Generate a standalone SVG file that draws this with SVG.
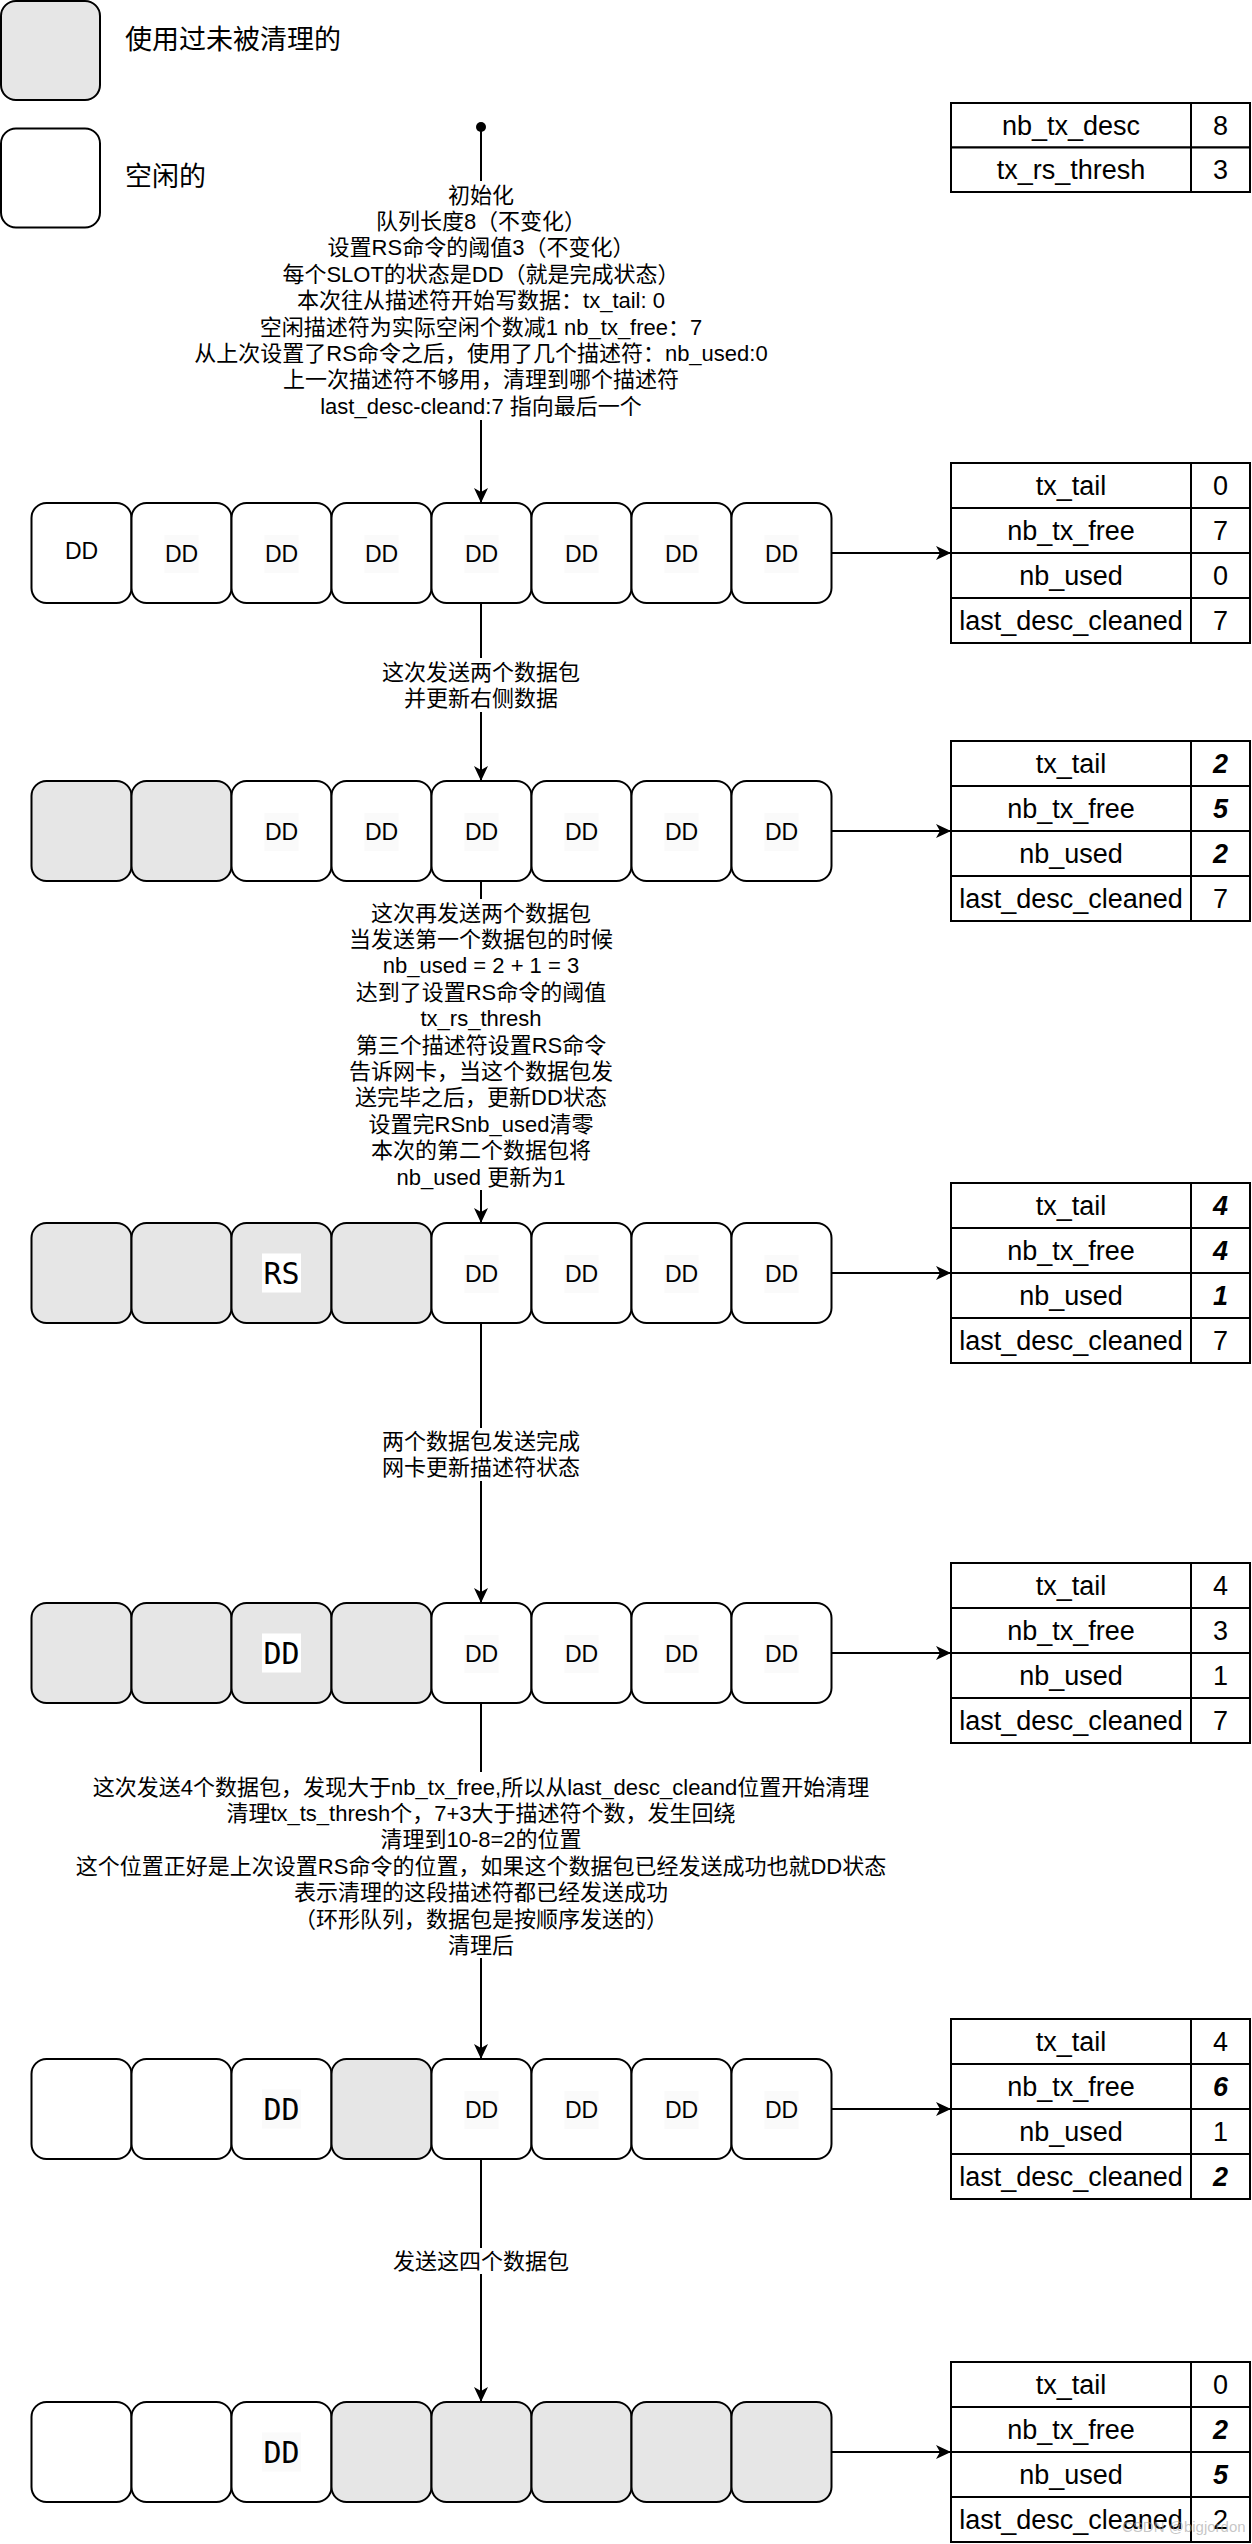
<svg xmlns="http://www.w3.org/2000/svg" width="1252" height="2544" viewBox="0 0 1252 2544">
<style>
.box{stroke:#000;stroke-width:2}
.w{fill:#fff}
.g{fill:#e6e6e6}
.tbg{fill:#fafafa}
.t{font-family:"Liberation Sans","Noto Sans CJK SC",sans-serif;font-size:22px;text-anchor:middle;dominant-baseline:central;fill:#000}
.lg{font-family:"Liberation Sans","Noto Sans CJK SC",sans-serif;font-size:27px;dominant-baseline:central;fill:#000}
.dd{font-family:"Liberation Sans",sans-serif;font-size:23px;text-anchor:middle;dominant-baseline:central;fill:#000}
.mono{font-family:"DejaVu Sans Mono",monospace;font-size:30px;text-anchor:middle;dominant-baseline:central;fill:#000}
.cell{fill:#fff;stroke:#000;stroke-width:2}
.tt{font-family:"Liberation Sans",sans-serif;font-size:27px;text-anchor:middle;dominant-baseline:central;fill:#000}
.bi{font-weight:bold;font-style:italic}
.conn{stroke:#000;stroke-width:2;fill:none}
.wm{font-family:"Liberation Sans",sans-serif;font-size:15px;fill:#a0a0a0;fill-opacity:0.6}
</style>
<defs>
<marker id="arr" markerUnits="userSpaceOnUse" markerWidth="16" markerHeight="14" refX="15" refY="7" orient="auto">
<path d="M0,0 L15,7 L0,14 L4,7 Z" fill="#000"/>
</marker>
</defs>

<g id="legend-used"><rect class="box g" x="1" y="1" width="99" height="99" rx="15"/><text class="lg" x="125" y="40">使用过未被清理的</text></g>
<g id="legend-free"><rect class="box w" x="1" y="128.5" width="99" height="99" rx="15"/><text class="lg" x="125" y="177">空闲的</text></g>

<g id="params">
<rect class="cell" x="951" y="103" width="240" height="44.5"/><rect class="cell" x="1191" y="103" width="59" height="44.5"/>
<rect class="cell" x="951" y="147.5" width="240" height="44.5"/><rect class="cell" x="1191" y="147.5" width="59" height="44.5"/>
<text class="tt" x="1071" y="125.5">nb_tx_desc</text><text class="tt" x="1220.5" y="125.5">8</text>
<text class="tt" x="1071" y="170">tx_rs_thresh</text><text class="tt" x="1220.5" y="170">3</text>
</g>

<g id="connectors">
<circle cx="481" cy="127" r="5" fill="#000"/>
<path class="conn" d="M481,127 V181 M481,420 V503" marker-end="url(#arr)"/>
<path class="conn" d="M481,603 V658 M481,712 V781" marker-end="url(#arr)"/>
<path class="conn" d="M481,881 V899 M481,1190 V1223" marker-end="url(#arr)"/>
<path class="conn" d="M481,1323 V1428 M481,1481 V1603" marker-end="url(#arr)"/>
<path class="conn" d="M481,1703 V1772 M481,1958 V2059" marker-end="url(#arr)"/>
<path class="conn" d="M481,2159 V2248 M481,2274 V2402" marker-end="url(#arr)"/>
<path class="conn" d="M831.5,553 H951" marker-end="url(#arr)"/>
<path class="conn" d="M831.5,831 H951" marker-end="url(#arr)"/>
<path class="conn" d="M831.5,1273 H951" marker-end="url(#arr)"/>
<path class="conn" d="M831.5,1653 H951" marker-end="url(#arr)"/>
<path class="conn" d="M831.5,2109 H951" marker-end="url(#arr)"/>
<path class="conn" d="M831.5,2452 H951" marker-end="url(#arr)"/>
</g>

<g id="label-init">
<text class="t" x="481" y="195">初始化</text>
<text class="t" x="481" y="221.4">队列长度8（不变化）</text>
<text class="t" x="481" y="247.8">设置RS命令的阈值3（不变化）</text>
<text class="t" x="481" y="274.2">每个SLOT的状态是DD（就是完成状态）</text>
<text class="t" x="481" y="300.6">本次往从描述符开始写数据：tx_tail: 0</text>
<text class="t" x="481" y="327">空闲描述符为实际空闲个数减1 nb_tx_free：7</text>
<text class="t" x="481" y="353.4">从上次设置了RS命令之后，使用了几个描述符：nb_used:0</text>
<text class="t" x="481" y="379.8">上一次描述符不够用，清理到哪个描述符</text>
<text class="t" x="481" y="406.2">last_desc-cleand:7 指向最后一个</text>
</g>
<g id="label-2">
<text class="t" x="481" y="672">这次发送两个数据包</text>
<text class="t" x="481" y="698.5">并更新右侧数据</text>
</g>
<g id="label-3">
<text class="t" x="481" y="913">这次再发送两个数据包</text>
<text class="t" x="481" y="939.4">当发送第一个数据包的时候</text>
<text class="t" x="481" y="965.8">nb_used = 2 + 1 = 3</text>
<text class="t" x="481" y="992.2">达到了设置RS命令的阈值</text>
<text class="t" x="481" y="1018.6">tx_rs_thresh</text>
<text class="t" x="481" y="1045">第三个描述符设置RS命令</text>
<text class="t" x="481" y="1071.4">告诉网卡，当这个数据包发</text>
<text class="t" x="481" y="1097.8">送完毕之后，更新DD状态</text>
<text class="t" x="481" y="1124.2">设置完RSnb_used清零</text>
<text class="t" x="481" y="1150.6">本次的第二个数据包将</text>
<text class="t" x="481" y="1177">nb_used 更新为1</text>
</g>
<g id="label-4">
<text class="t" x="481" y="1441.5">两个数据包发送完成</text>
<text class="t" x="481" y="1467.9">网卡更新描述符状态</text>
</g>
<g id="label-5">
<text class="t" x="481" y="1787">这次发送4个数据包，发现大于nb_tx_free,所以从last_desc_cleand位置开始清理</text>
<text class="t" x="481" y="1813.4">清理tx_ts_thresh个，7+3大于描述符个数，发生回绕</text>
<text class="t" x="481" y="1839.8">清理到10-8=2的位置</text>
<text class="t" x="481" y="1866.2">这个位置正好是上次设置RS命令的位置，如果这个数据包已经发送成功也就DD状态</text>
<text class="t" x="481" y="1892.6">表示清理的这段描述符都已经发送成功</text>
<text class="t" x="481" y="1919">（环形队列，数据包是按顺序发送的）</text>
<text class="t" x="481" y="1945.4">清理后</text>
</g>
<g id="label-6">
<text class="t" x="481" y="2261">发送这四个数据包</text>
</g>

<g id="row1">
<g id="r1s0"><rect class="box w" x="31.5" y="503" width="100" height="100" rx="15"/><text class="dd" x="81.5" y="551">DD</text></g>
<g id="r1s1"><rect class="box w" x="131.5" y="503" width="100" height="100" rx="15"/><rect class="tbg" x="164.5" y="535" width="34" height="38"/><text class="dd" x="181.5" y="554">DD</text></g>
<g id="r1s2"><rect class="box w" x="231.5" y="503" width="100" height="100" rx="15"/><rect class="tbg" x="264.5" y="535" width="34" height="38"/><text class="dd" x="281.5" y="554">DD</text></g>
<g id="r1s3"><rect class="box w" x="331.5" y="503" width="100" height="100" rx="15"/><rect class="tbg" x="364.5" y="535" width="34" height="38"/><text class="dd" x="381.5" y="554">DD</text></g>
<g id="r1s4"><rect class="box w" x="431.5" y="503" width="100" height="100" rx="15"/><rect class="tbg" x="464.5" y="535" width="34" height="38"/><text class="dd" x="481.5" y="554">DD</text></g>
<g id="r1s5"><rect class="box w" x="531.5" y="503" width="100" height="100" rx="15"/><rect class="tbg" x="564.5" y="535" width="34" height="38"/><text class="dd" x="581.5" y="554">DD</text></g>
<g id="r1s6"><rect class="box w" x="631.5" y="503" width="100" height="100" rx="15"/><rect class="tbg" x="664.5" y="535" width="34" height="38"/><text class="dd" x="681.5" y="554">DD</text></g>
<g id="r1s7"><rect class="box w" x="731.5" y="503" width="100" height="100" rx="15"/><rect class="tbg" x="764.5" y="535" width="34" height="38"/><text class="dd" x="781.5" y="554">DD</text></g>
</g>

<g id="row2">
<g id="r2s0"><rect class="box g" x="31.5" y="781" width="100" height="100" rx="15"/></g>
<g id="r2s1"><rect class="box g" x="131.5" y="781" width="100" height="100" rx="15"/></g>
<g id="r2s2"><rect class="box w" x="231.5" y="781" width="100" height="100" rx="15"/><rect class="tbg" x="264.5" y="813" width="34" height="38"/><text class="dd" x="281.5" y="832">DD</text></g>
<g id="r2s3"><rect class="box w" x="331.5" y="781" width="100" height="100" rx="15"/><rect class="tbg" x="364.5" y="813" width="34" height="38"/><text class="dd" x="381.5" y="832">DD</text></g>
<g id="r2s4"><rect class="box w" x="431.5" y="781" width="100" height="100" rx="15"/><rect class="tbg" x="464.5" y="813" width="34" height="38"/><text class="dd" x="481.5" y="832">DD</text></g>
<g id="r2s5"><rect class="box w" x="531.5" y="781" width="100" height="100" rx="15"/><rect class="tbg" x="564.5" y="813" width="34" height="38"/><text class="dd" x="581.5" y="832">DD</text></g>
<g id="r2s6"><rect class="box w" x="631.5" y="781" width="100" height="100" rx="15"/><rect class="tbg" x="664.5" y="813" width="34" height="38"/><text class="dd" x="681.5" y="832">DD</text></g>
<g id="r2s7"><rect class="box w" x="731.5" y="781" width="100" height="100" rx="15"/><rect class="tbg" x="764.5" y="813" width="34" height="38"/><text class="dd" x="781.5" y="832">DD</text></g>
</g>

<g id="row3">
<g id="r3s0"><rect class="box g" x="31.5" y="1223" width="100" height="100" rx="15"/></g>
<g id="r3s1"><rect class="box g" x="131.5" y="1223" width="100" height="100" rx="15"/></g>
<g id="r3s2"><rect class="box g" x="231.5" y="1223" width="100" height="100" rx="15"/><rect fill="#fff" x="262" y="1253.5" width="39" height="39"/><text class="mono" x="281.5" y="1273">RS</text></g>
<g id="r3s3"><rect class="box g" x="331.5" y="1223" width="100" height="100" rx="15"/></g>
<g id="r3s4"><rect class="box w" x="431.5" y="1223" width="100" height="100" rx="15"/><rect class="tbg" x="464.5" y="1255" width="34" height="38"/><text class="dd" x="481.5" y="1274">DD</text></g>
<g id="r3s5"><rect class="box w" x="531.5" y="1223" width="100" height="100" rx="15"/><rect class="tbg" x="564.5" y="1255" width="34" height="38"/><text class="dd" x="581.5" y="1274">DD</text></g>
<g id="r3s6"><rect class="box w" x="631.5" y="1223" width="100" height="100" rx="15"/><rect class="tbg" x="664.5" y="1255" width="34" height="38"/><text class="dd" x="681.5" y="1274">DD</text></g>
<g id="r3s7"><rect class="box w" x="731.5" y="1223" width="100" height="100" rx="15"/><rect class="tbg" x="764.5" y="1255" width="34" height="38"/><text class="dd" x="781.5" y="1274">DD</text></g>
</g>

<g id="row4">
<g id="r4s0"><rect class="box g" x="31.5" y="1603" width="100" height="100" rx="15"/></g>
<g id="r4s1"><rect class="box g" x="131.5" y="1603" width="100" height="100" rx="15"/></g>
<g id="r4s2"><rect class="box g" x="231.5" y="1603" width="100" height="100" rx="15"/><rect fill="#fff" x="262" y="1633.5" width="39" height="39"/><text class="mono" x="281.5" y="1653">DD</text></g>
<g id="r4s3"><rect class="box g" x="331.5" y="1603" width="100" height="100" rx="15"/></g>
<g id="r4s4"><rect class="box w" x="431.5" y="1603" width="100" height="100" rx="15"/><rect class="tbg" x="464.5" y="1635" width="34" height="38"/><text class="dd" x="481.5" y="1654">DD</text></g>
<g id="r4s5"><rect class="box w" x="531.5" y="1603" width="100" height="100" rx="15"/><rect class="tbg" x="564.5" y="1635" width="34" height="38"/><text class="dd" x="581.5" y="1654">DD</text></g>
<g id="r4s6"><rect class="box w" x="631.5" y="1603" width="100" height="100" rx="15"/><rect class="tbg" x="664.5" y="1635" width="34" height="38"/><text class="dd" x="681.5" y="1654">DD</text></g>
<g id="r4s7"><rect class="box w" x="731.5" y="1603" width="100" height="100" rx="15"/><rect class="tbg" x="764.5" y="1635" width="34" height="38"/><text class="dd" x="781.5" y="1654">DD</text></g>
</g>

<g id="row5">
<g id="r5s0"><rect class="box w" x="31.5" y="2059" width="100" height="100" rx="15"/></g>
<g id="r5s1"><rect class="box w" x="131.5" y="2059" width="100" height="100" rx="15"/></g>
<g id="r5s2"><rect class="box w" x="231.5" y="2059" width="100" height="100" rx="15"/><rect class="tbg" x="262" y="2089.5" width="39" height="39"/><text class="mono" x="281.5" y="2109">DD</text></g>
<g id="r5s3"><rect class="box g" x="331.5" y="2059" width="100" height="100" rx="15"/></g>
<g id="r5s4"><rect class="box w" x="431.5" y="2059" width="100" height="100" rx="15"/><rect class="tbg" x="464.5" y="2091" width="34" height="38"/><text class="dd" x="481.5" y="2110">DD</text></g>
<g id="r5s5"><rect class="box w" x="531.5" y="2059" width="100" height="100" rx="15"/><rect class="tbg" x="564.5" y="2091" width="34" height="38"/><text class="dd" x="581.5" y="2110">DD</text></g>
<g id="r5s6"><rect class="box w" x="631.5" y="2059" width="100" height="100" rx="15"/><rect class="tbg" x="664.5" y="2091" width="34" height="38"/><text class="dd" x="681.5" y="2110">DD</text></g>
<g id="r5s7"><rect class="box w" x="731.5" y="2059" width="100" height="100" rx="15"/><rect class="tbg" x="764.5" y="2091" width="34" height="38"/><text class="dd" x="781.5" y="2110">DD</text></g>
</g>

<g id="row6">
<g id="r6s0"><rect class="box w" x="31.5" y="2402" width="100" height="100" rx="15"/></g>
<g id="r6s1"><rect class="box w" x="131.5" y="2402" width="100" height="100" rx="15"/></g>
<g id="r6s2"><rect class="box w" x="231.5" y="2402" width="100" height="100" rx="15"/><rect class="tbg" x="262" y="2432.5" width="39" height="39"/><text class="mono" x="281.5" y="2452">DD</text></g>
<g id="r6s3"><rect class="box g" x="331.5" y="2402" width="100" height="100" rx="15"/></g>
<g id="r6s4"><rect class="box g" x="431.5" y="2402" width="100" height="100" rx="15"/></g>
<g id="r6s5"><rect class="box g" x="531.5" y="2402" width="100" height="100" rx="15"/></g>
<g id="r6s6"><rect class="box g" x="631.5" y="2402" width="100" height="100" rx="15"/></g>
<g id="r6s7"><rect class="box g" x="731.5" y="2402" width="100" height="100" rx="15"/></g>
</g>

<g id="state1">
<rect class="cell" x="951" y="463" width="240" height="45"/><rect class="cell" x="1191" y="463" width="59" height="45"/>
<rect class="cell" x="951" y="508" width="240" height="45"/><rect class="cell" x="1191" y="508" width="59" height="45"/>
<rect class="cell" x="951" y="553" width="240" height="45"/><rect class="cell" x="1191" y="553" width="59" height="45"/>
<rect class="cell" x="951" y="598" width="240" height="45"/><rect class="cell" x="1191" y="598" width="59" height="45"/>
<text class="tt" x="1071" y="486">tx_tail</text><text class="tt" x="1220.5" y="486">0</text>
<text class="tt" x="1071" y="531">nb_tx_free</text><text class="tt" x="1220.5" y="531">7</text>
<text class="tt" x="1071" y="576">nb_used</text><text class="tt" x="1220.5" y="576">0</text>
<text class="tt" x="1071" y="621">last_desc_cleaned</text><text class="tt" x="1220.5" y="621">7</text>
</g>

<g id="state2">
<rect class="cell" x="951" y="741" width="240" height="45"/><rect class="cell" x="1191" y="741" width="59" height="45"/>
<rect class="cell" x="951" y="786" width="240" height="45"/><rect class="cell" x="1191" y="786" width="59" height="45"/>
<rect class="cell" x="951" y="831" width="240" height="45"/><rect class="cell" x="1191" y="831" width="59" height="45"/>
<rect class="cell" x="951" y="876" width="240" height="45"/><rect class="cell" x="1191" y="876" width="59" height="45"/>
<text class="tt" x="1071" y="764">tx_tail</text><text class="tt bi" x="1220.5" y="764">2</text>
<text class="tt" x="1071" y="809">nb_tx_free</text><text class="tt bi" x="1220.5" y="809">5</text>
<text class="tt" x="1071" y="854">nb_used</text><text class="tt bi" x="1220.5" y="854">2</text>
<text class="tt" x="1071" y="899">last_desc_cleaned</text><text class="tt" x="1220.5" y="899">7</text>
</g>

<g id="state3">
<rect class="cell" x="951" y="1183" width="240" height="45"/><rect class="cell" x="1191" y="1183" width="59" height="45"/>
<rect class="cell" x="951" y="1228" width="240" height="45"/><rect class="cell" x="1191" y="1228" width="59" height="45"/>
<rect class="cell" x="951" y="1273" width="240" height="45"/><rect class="cell" x="1191" y="1273" width="59" height="45"/>
<rect class="cell" x="951" y="1318" width="240" height="45"/><rect class="cell" x="1191" y="1318" width="59" height="45"/>
<text class="tt" x="1071" y="1206">tx_tail</text><text class="tt bi" x="1220.5" y="1206">4</text>
<text class="tt" x="1071" y="1251">nb_tx_free</text><text class="tt bi" x="1220.5" y="1251">4</text>
<text class="tt" x="1071" y="1296">nb_used</text><text class="tt bi" x="1220.5" y="1296">1</text>
<text class="tt" x="1071" y="1341">last_desc_cleaned</text><text class="tt" x="1220.5" y="1341">7</text>
</g>

<g id="state4">
<rect class="cell" x="951" y="1563" width="240" height="45"/><rect class="cell" x="1191" y="1563" width="59" height="45"/>
<rect class="cell" x="951" y="1608" width="240" height="45"/><rect class="cell" x="1191" y="1608" width="59" height="45"/>
<rect class="cell" x="951" y="1653" width="240" height="45"/><rect class="cell" x="1191" y="1653" width="59" height="45"/>
<rect class="cell" x="951" y="1698" width="240" height="45"/><rect class="cell" x="1191" y="1698" width="59" height="45"/>
<text class="tt" x="1071" y="1586">tx_tail</text><text class="tt" x="1220.5" y="1586">4</text>
<text class="tt" x="1071" y="1631">nb_tx_free</text><text class="tt" x="1220.5" y="1631">3</text>
<text class="tt" x="1071" y="1676">nb_used</text><text class="tt" x="1220.5" y="1676">1</text>
<text class="tt" x="1071" y="1721">last_desc_cleaned</text><text class="tt" x="1220.5" y="1721">7</text>
</g>

<g id="state5">
<rect class="cell" x="951" y="2019" width="240" height="45"/><rect class="cell" x="1191" y="2019" width="59" height="45"/>
<rect class="cell" x="951" y="2064" width="240" height="45"/><rect class="cell" x="1191" y="2064" width="59" height="45"/>
<rect class="cell" x="951" y="2109" width="240" height="45"/><rect class="cell" x="1191" y="2109" width="59" height="45"/>
<rect class="cell" x="951" y="2154" width="240" height="45"/><rect class="cell" x="1191" y="2154" width="59" height="45"/>
<text class="tt" x="1071" y="2042">tx_tail</text><text class="tt" x="1220.5" y="2042">4</text>
<text class="tt" x="1071" y="2087">nb_tx_free</text><text class="tt bi" x="1220.5" y="2087">6</text>
<text class="tt" x="1071" y="2132">nb_used</text><text class="tt" x="1220.5" y="2132">1</text>
<text class="tt" x="1071" y="2177">last_desc_cleaned</text><text class="tt bi" x="1220.5" y="2177">2</text>
</g>

<g id="state6">
<rect class="cell" x="951" y="2362" width="240" height="45"/><rect class="cell" x="1191" y="2362" width="59" height="45"/>
<rect class="cell" x="951" y="2407" width="240" height="45"/><rect class="cell" x="1191" y="2407" width="59" height="45"/>
<rect class="cell" x="951" y="2452" width="240" height="45"/><rect class="cell" x="1191" y="2452" width="59" height="45"/>
<rect class="cell" x="951" y="2497" width="240" height="45"/><rect class="cell" x="1191" y="2497" width="59" height="45"/>
<text class="tt" x="1071" y="2385">tx_tail</text><text class="tt" x="1220.5" y="2385">0</text>
<text class="tt" x="1071" y="2430">nb_tx_free</text><text class="tt bi" x="1220.5" y="2430">2</text>
<text class="tt" x="1071" y="2475">nb_used</text><text class="tt bi" x="1220.5" y="2475">5</text>
<text class="tt" x="1071" y="2520">last_desc_cleaned</text><text class="tt" x="1220.5" y="2520">2</text>
</g>

<text class="wm" x="1122" y="2532">CSDN @bigjordon</text>
</svg>
